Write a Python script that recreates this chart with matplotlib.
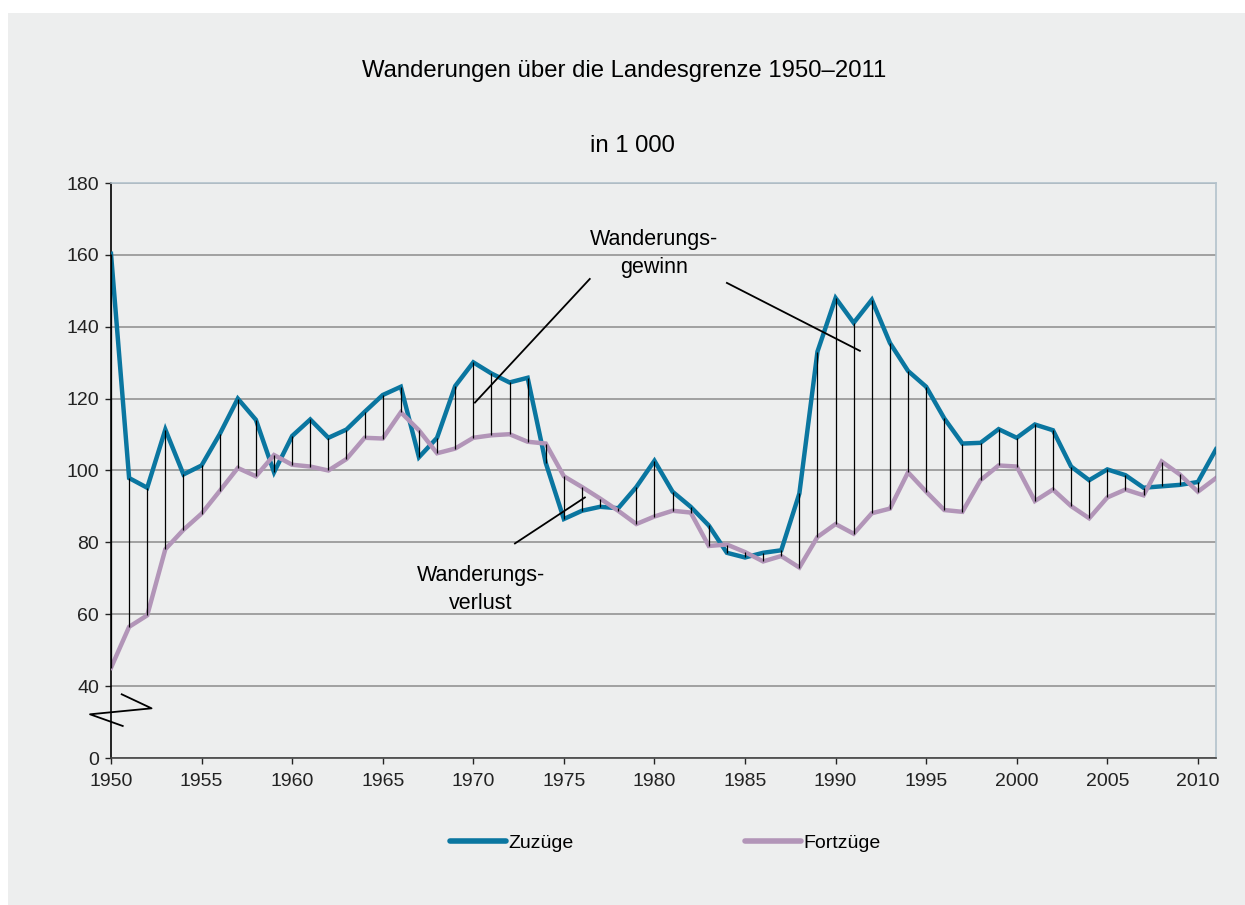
import matplotlib.pyplot as plt
import numpy as np
from matplotlib.lines import Line2D
from matplotlib.patches import Rectangle

plt.rcParams['font.family'] = ['Liberation Sans', 'DejaVu Sans']

years = np.arange(1950, 2012)
zuzuege = [160.3, 97.9, 95.2, 111.4, 98.9, 101.4, 110.1, 120.0, 114.1, 99.5,
           109.6, 114.2, 109.1, 111.4, 116.3, 121.0, 123.3, 103.7, 109.1, 123.5,
           130.1, 127.0, 124.5, 125.8, 102.1, 86.5, 88.8, 89.9, 89.5, 95.4,
           102.7, 94.1, 89.9, 84.7, 77.1, 75.8, 77.1, 77.8, 93.6, 133.1,
           148.0, 141.1, 147.5, 135.5, 127.7, 123.3, 114.5, 107.5, 107.7, 111.5,
           109.1, 112.8, 111.2, 101.1, 97.3, 100.3, 98.7, 95.2, 95.6, 96.0,
           96.8, 105.9]
fortzuege = [45.1, 56.5, 59.7, 78.1, 83.5, 88.0, 94.3, 100.7, 98.4, 104.3,
             101.6, 101.1, 100.0, 103.2, 109.1, 108.9, 116.2, 111.2, 104.8, 106.1,
             109.1, 109.8, 110.1, 108.0, 107.5, 98.4, 95.4, 92.2, 88.8, 85.1,
             87.2, 88.8, 88.3, 79.0, 79.4, 77.3, 74.7, 76.2, 73.0, 81.5,
             85.1, 82.4, 88.1, 89.4, 99.5, 94.1, 89.0, 88.5, 97.3, 101.4,
             101.1, 91.5, 94.7, 90.1, 86.7, 92.5, 94.7, 93.1, 102.5, 98.9,
             94.1, 97.9]
ytick_labels = ['0', '40', '60', '80', '100', '120', '140', '160', '180']
xticks = np.arange(1950, 2011, 5)

# axis break: 0..40 only takes one grid step, so values >= 40 are moved down by 20
def shift(v):
    return np.asarray(v, dtype=float) - 20

blue = '#0a76a0'
purple = '#b295b8'
bg = '#edeeee'

fig = plt.figure(figsize=(12.45, 9.05), dpi=100, facecolor='white')
fig.patches.append(Rectangle((8 / 1245, 0), 1, (905 - 13) / 905, transform=fig.transFigure,
                             facecolor=bg, edgecolor='none', zorder=-10))

ax = fig.add_axes([111 / 1245, 1 - 758 / 905, 1105 / 1245, 575 / 905])
ax.set_facecolor('none')

z = shift(zuzuege)
f = shift(fortzuege)

ax.vlines(years, np.minimum(z, f), np.maximum(z, f), colors='black', lw=0.9, zorder=4)
ax.plot(years, z, color=blue, lw=3.2, zorder=3, solid_joinstyle='miter')
ax.plot(years, f, color=purple, lw=3.2, zorder=3.1, solid_joinstyle='miter')

ax.set_xlim(1950, 2011)
ax.set_ylim(0, 160)
ax.set_xticks(xticks)
ax.set_yticks(np.arange(0, 161, 20))
ax.set_yticklabels(ytick_labels)
ax.tick_params(labelsize=14, length=4.5, width=1, pad=4, colors='#222222')
ax.tick_params(axis='x', pad=6)

ax.set_axisbelow(True)
ax.yaxis.grid(True, color='#8c8c8c', lw=1.1)
ax.spines['left'].set_color('black')
ax.spines['bottom'].set_color('#444444')
ax.spines['top'].set_color('#b3c2cc')
ax.spines['right'].set_color('#b3c2cc')
for s in ax.spines.values():
    s.set_linewidth(1.2)

# break symbol on the y axis
bx = [0.0097, 0.0367, -0.019, 0.0106]
by = [0.1108, 0.0864, 0.076, 0.0557]
ax.plot(bx, by, color='black', lw=1.3, transform=ax.transAxes, clip_on=False, zorder=5)

# annotations
ax.text(1980.0, shift(160.4), 'Wanderungs-\ngewinn', fontsize=15.5, ha='center', va='center',
        multialignment='center', linespacing=1.45)
ax.plot([1976.43, 1970.09], shift([153.3, 118.9]), color='black', lw=1.3, zorder=5)
ax.plot([1984.0, 1991.34], shift([152.2, 133.3]), color='black', lw=1.3, zorder=5)
ax.text(1970.4, shift(66.8), 'Wanderungs-\nverlust', fontsize=15.5, ha='center', va='center',
        multialignment='center', linespacing=1.45)
ax.plot([1972.3, 1976.16], shift([79.7, 92.5]), color='black', lw=1.3, zorder=5)

fig.text(624 / 1245, 1 - 71 / 905, 'Wanderungen über die Landesgrenze 1950–2011',
         fontsize=17.2, ha='center', va='center')
fig.text(632 / 1245, 1 - 146 / 905, 'in 1 000', fontsize=17.2, ha='center', va='center')

handles = [Line2D([], [], color=blue, lw=4, solid_capstyle='round'),
           Line2D([], [], color=purple, lw=4, solid_capstyle='round')]
fig.legend(handles, ['Zuzüge', 'Fortzüge'], loc='center', bbox_to_anchor=(665 / 1245, 1 - 843 / 905),
           ncol=2, frameon=False, fontsize=14, handlelength=2.9, handletextpad=0.1,
           columnspacing=8.8)

fig.savefig('out.png', dpi=100, facecolor='white')
